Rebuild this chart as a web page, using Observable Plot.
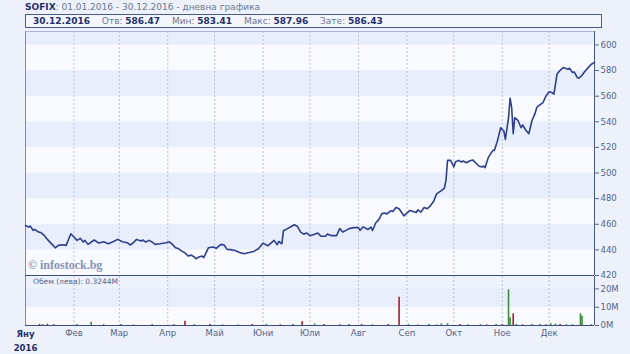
<!DOCTYPE html>
<html><head><meta charset="utf-8">
<script src="https://cdn.jsdelivr.net/npm/d3@7"></script>
<script src="https://cdn.jsdelivr.net/npm/@observablehq/plot@0.6"></script>
<style>
body{margin:0;background:#edf2fa;font-family:"DejaVu Sans",sans-serif;}
#wrap{position:relative;width:630px;height:354px;overflow:hidden;background:#edf2fa;}
#title{position:absolute;left:25px;top:2px;font-size:9px;color:#6b7896;white-space:nowrap;}
#title b{color:#1f2f6e;}
#box{position:absolute;left:25px;top:14px;width:568px;height:12px;border:1px solid #4a5a8c;background:#f3f6fd;font-size:9px;color:#6b7896;white-space:nowrap;line-height:12px;padding-left:7px;box-sizing:content-box;}
#box b{color:#1f2f6e;margin-right:9px;}
#price,#vol{position:absolute;left:0;}
#price{top:31px;}
#vol{top:276px;}
#wm{position:absolute;left:28px;top:258px;font-family:"Liberation Serif",serif;font-weight:bold;font-size:12px;color:#8793b6;}
#vl{position:absolute;left:33px;top:277px;font-size:7.5px;color:#56648a;}
</style></head>
<body><div id="wrap">
<div id="title"><b>SOFIX</b>: 01.01.2016 - 30.12.2016 - дневна графика</div>
<div id="box"><b>30.12.2016</b> Отв: <b>586.47</b> Мин: <b>583.41</b> Макс: <b>587.96</b> Зате: <b>586.43</b></div>
<div id="price"></div>
<div id="vol"></div>
<div id="wm">© infostock.bg</div>
<div id="vl">Обем (лева): 0.3244M</div>
</div>
<script>
// ---- data ----
const priceDates = ["01-01","01-03","01-04","01-06","01-07","01-09","01-11","01-13","01-15","01-18","01-20","01-22","01-25","01-27","01-30",
"02-01","02-03","02-05","02-07","02-08","02-10","02-14","02-17","02-20","02-23","02-26","02-29",
"03-03","03-06","03-08","03-10","03-12","03-15","03-16","03-18","03-20","03-22","03-24","03-27","03-31",
"04-02","04-04","04-06","04-08","04-10","04-12","04-14","04-16","04-18","04-19","04-21","04-23","04-24","04-27","04-30",
"05-02","05-05","05-07","05-09","05-11","05-14","05-17","05-20","05-23","05-26","05-29",
"06-01","06-04","06-06","06-08","06-10","06-11","06-13","06-14","06-16","06-19","06-21","06-23","06-25","06-27","06-29",
"07-01","07-03","07-06","07-08","07-11","07-12","07-15","07-18","07-20","07-22","07-24","07-26","07-29",
"08-01","08-02","08-04","08-07","08-09","08-10","08-12","08-14","08-16","08-18","08-19","08-22","08-23","08-25","08-27","08-30",
"09-01","09-03","09-07","09-08","09-10","09-12","09-14","09-16","09-18","09-20","09-23","09-25","09-26","09-27","09-29",
"10-01","10-02","10-04","10-06","10-07","10-09","10-11","10-13","10-15","10-17","10-19","10-20","10-21","10-23","10-26","10-27","10-29","10-31",
"11-02","11-03","11-05","11-06","11-07","11-08","11-09","11-11","11-13","11-14","11-16","11-18","11-20","11-22","11-23","11-24","11-27","11-29",
"12-01","12-03","12-04","12-06","12-08","12-10","12-13","12-14","12-16","12-17","12-19","12-20","12-22","12-24","12-26","12-28","12-30"];
const priceValues = [459.1,457.8,458.6,455.2,456.0,454.1,453.3,451.3,448.2,444.3,441.6,443.5,444.0,443.5,452.6,
450.0,447.4,449.0,446.1,447.4,444.3,447.7,445.3,446.3,444.8,446.3,448.2,
446.3,445.6,443.8,445.6,448.2,446.9,447.7,446.1,447.4,446.1,444.3,444.8,445.6,
446.3,444.3,441.6,440.8,439.0,437.7,435.2,435.9,434.4,433.0,434.4,435.2,433.9,441.6,442.2,
441.2,444.3,443.8,440.4,440.2,439.5,438.0,437.0,438.0,438.8,440.9,
445.3,443.2,445.3,447.4,444.0,446.6,444.8,454.9,456.2,458.3,459.6,458.3,453.9,452.3,453.1,
451.1,451.9,453.1,450.6,450.6,452.3,451.1,451.1,456.6,453.9,455.2,456.6,457.4,
457.4,455.2,458.0,455.9,457.7,455.1,461.0,463.6,468.3,468.8,468.0,470.6,470.0,473.1,472.1,466.6,
468.7,470.8,469.2,471.3,469.5,473.1,472.1,474.4,477.7,483.7,486.3,488.3,494.5,509.9,509.9,
504.7,508.6,509.9,508.6,509.4,508.0,509.4,510.2,508.0,505.5,504.7,505.5,504.2,512.0,517.7,517.7,525.5,535.4,
532.8,526.3,543.2,558.4,551.0,530.7,543.2,541.2,535.4,537.5,533.6,530.7,541.0,546.6,551.0,552.3,554.9,560.2,
563.5,562.7,561.5,577.1,580.2,582.3,581.0,581.8,578.4,578.9,574.5,574.0,576.3,579.7,582.3,584.9,586.4];

const volDates = ["01-10","01-12","01-15","01-19","02-03","02-12","02-20","03-02","03-10","03-22","04-05","04-12","04-18","04-28","05-06","05-16","05-25",
"06-03","06-12","06-20","06-26","07-04","07-10","07-20","07-26","08-03","08-10","08-20","08-27","09-02","09-08","09-15","09-20","09-23","09-27","10-05","10-10",
"10-18","10-22","10-28","11-01","11-05","11-06","11-08","11-10","11-14","11-20","11-25","11-29","12-02","12-05","12-08","12-12","12-16","12-21","12-22","12-28"];
const volValues = [0.6,0.5,0.7,0.4,0.5,1.8,0.4,0.5,0.3,0.6,0.4,2.3,0.5,0.6,0.4,0.3,0.5,
0.6,0.4,0.5,2.0,0.8,0.5,0.4,0.6,0.5,0.4,0.5,15.5,0.6,0.3,0.5,0.4,0.8,1.0,0.5,0.4,
0.5,0.3,0.6,0.5,19.5,4.2,6.4,0.6,0.4,0.5,0.6,0.4,1.0,0.8,0.6,0.4,0.5,6.4,5.0,0.5];
const volUp = [0,1,0,0,1,1,0,1,0,1,0,0,1,0,1,1,0,
1,0,1,0,1,0,0,1,0,1,0,0,1,0,1,1,1,1,0,1,
1,0,1,0,1,1,0,1,0,1,1,0,1,1,0,1,1,1,1,1];

const monthLabels = ["Яну","Фев","Мар","Апр","Май","Юни","Юли","Авг","Сеп","Окт","Ное","Дек"];
const priceTicks = [420,440,460,480,500,520,540,560,580,600];
const volTicks = [0,10,20];

// ---- build ----
const D = s => new Date("2016-" + s + "T00:00:00Z");
const price = priceDates.map((d,i)=>({date:D(d), value:priceValues[i]}));
const vol = volDates.map((d,i)=>({date:D(d), value:volValues[i], up:volUp[i]}));
const months = monthLabels.map((m,i)=>({date:new Date(Date.UTC(2016,i,1)), label:m}));
const x0 = new Date(Date.UTC(2016,0,1)), x1 = new Date(Date.UTC(2016,11,30));
const pBands = [[420,440],[440,460],[460,480],[480,500],[500,520],[520,540],[540,560],[560,580],[580,600],[600,610.5]]
  .map(([a,b],i)=>({y1:a,y2:b,fill: i%2 ? "#e8eefc" : "#f9fafe"}));
const vBands = [{y1:0,y2:10,fill:"#f9fafe"},{y1:10,y2:20,fill:"#e8eefc"},{y1:20,y2:26.8,fill:"#eef2fc"}];
const grid = months.slice(1);

const common = {width:630, marginLeft:25, marginRight:36,
  style:{background:"transparent", overflow:"visible", fontFamily:"DejaVu Sans, sans-serif", fontSize:"8.5px", color:"#56648a"}};

const pChart = Plot.plot({
  ...common, height:244, marginTop:0, marginBottom:0,
  x:{type:"utc", domain:[x0,x1], axis:null},
  y:{domain:[420,610.5], axis:"right", ticks:priceTicks, tickSize:4, tickPadding:2, label:null, tickFormat:d=>String(d)},
  marks:[
    Plot.rect(pBands,{x1:()=>x0, x2:()=>x1, y1:"y1", y2:"y2", fill:"fill"}),
    Plot.ruleX(grid,{x:"date", stroke:"#b9c1d6", strokeWidth:1, strokeDasharray:"2,2"}),
    Plot.ruleY([610.5],{stroke:"#a9b5d3"}),
    Plot.ruleX([x0],{stroke:"#7e8cb0"}),
    Plot.ruleX([x1],{stroke:"#4a5a8c"}),
    Plot.ruleY([420],{stroke:"#3d4c80"}),
    Plot.line(price,{x:"date", y:"value", stroke:"#2f3f8c", strokeWidth:1.6, curve:"linear"})
  ]
});
document.getElementById("price").appendChild(pChart);

const vChart = Plot.plot({
  ...common, height:78, marginTop:0, marginBottom:29,
  x:{type:"utc", domain:[x0,x1], ticks:grid.map(d=>d.date), tickSize:0, tickPadding:4,
     tickFormat:d=>monthLabels[d.getUTCMonth()], label:null},
  y:{domain:[0,26.8], axis:"right", ticks:volTicks, tickSize:4, tickPadding:2, label:null, tickFormat:d=>d+"M"},
  marks:[
    Plot.rect(vBands,{x1:()=>x0, x2:()=>x1, y1:"y1", y2:"y2", fill:"fill"}),
    Plot.ruleX(grid,{x:"date", stroke:"#b9c1d6", strokeWidth:1, strokeDasharray:"2,2"}),
    Plot.ruleX([x0],{stroke:"#7e8cb0"}),
    Plot.ruleX([x1],{stroke:"#4a5a8c"}),
    Plot.ruleX(vol,{x:"date", y1:0, y2:"value", stroke:d=>d.up ? "#3f8a3c" : "#a3232b", strokeWidth:1.6}),
    Plot.ruleY([0],{stroke:"#3d4c80"}),
    Plot.text([months[0]],{x:"date", frameAnchor:"bottom", dy:2, text:d=>d.label+"\n2016", lineHeight:1.65,
      fontWeight:"bold", fill:"#1f2f6e", fontSize:8.5, lineAnchor:"top"})
  ]
});
document.getElementById("vol").appendChild(vChart);
</script>
</body></html>
